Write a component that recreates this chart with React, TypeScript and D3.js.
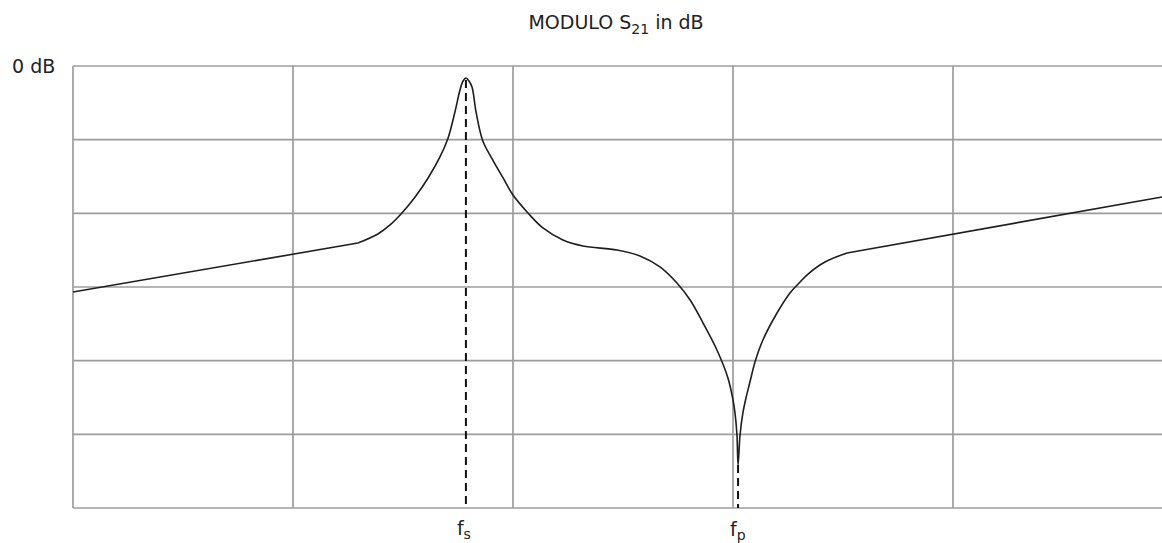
import React from "react";
import * as d3 from "d3";

// Frequency in grid divisions (0..5), magnitude in dB (10 dB per division)
const freq: number[] = [
  0, 1.295, 1.386, 1.441, 1.495, 1.555, 1.614, 1.668, 1.705, 1.736, 1.759, 1.773,
  1.786, 1.8, 1.814, 1.832, 1.862, 1.905, 1.955, 2.0, 2.068, 2.136, 2.227, 2.318,
  2.473, 2.577, 2.668, 2.745, 2.805, 2.864, 2.927, 2.977, 3.0, 3.009, 3.018, 3.023,
  3.032, 3.045, 3.059, 3.077, 3.1, 3.136, 3.2, 3.259, 3.305, 3.341, 3.418, 3.518, 4.95,
];
const s21dB: number[] = [
  -30.68, -24.03, -22.8, -21.58, -19.95, -17.78, -15.2, -12.35, -9.77, -6.24, -3.26, -2.04,
  -1.63, -2.04, -2.9, -6.24, -10.1, -12.6, -15.2, -17.51, -19.95, -21.99, -23.62, -24.43,
  -24.98, -25.79, -27.28, -29.46, -31.76, -34.89, -38.55, -42.35, -45.34, -47.1, -50.09, -54.16,
  -50.09, -47.1, -45.07, -42.9, -40.18, -37.19, -33.53, -30.81, -29.32, -28.24, -26.61, -25.38, -17.78,
];

const xGrid: number[] = [0, 1, 2, 3, 4, 5];
const yGrid: number[] = [0, -10, -20, -30, -40, -50, -60];

// Series resonance (peak) and parallel resonance (notch)
const fsFreq = 1.786;
const fsLevel = -1.63;
const fpFreq = 3.023;
const fpLevel = -54.16;

const W = 1162;
const H = 543;

export default function App() {
  const x = d3.scaleLinear().domain([0, 5]).range([73, 1173]);
  const y = d3.scaleLinear().domain([0, -60]).range([66, 508]);

  const pts = freq.map((f, i) => [f, s21dB[i]] as [number, number]);
  const n = pts.length;

  // Straight asymptotes at both ends, smooth resonance region in between
  const straight = d3
    .line<[number, number]>()
    .x((d) => x(d[0]))
    .y((d) => y(d[1]));
  const smooth = d3
    .line<[number, number]>()
    .x((d) => x(d[0]))
    .y((d) => y(d[1]))
    .curve(d3.curveCatmullRom.alpha(0.5));

  const gridColor = "#9c9c9c";
  const font = "'DejaVu Sans', Verdana, sans-serif";
  const ink = "#1e1e1e";

  return (
    <svg
      width={W}
      height={H}
      style={{ position: "absolute", left: 0, top: 0, background: "#fff" }}
    >
      <rect x={0} y={0} width={W} height={H} fill="#fff" />
      {yGrid.map((v) => (
        <line
          key={"h" + v}
          x1={x(0)}
          x2={W}
          y1={y(v)}
          y2={y(v)}
          stroke={gridColor}
          strokeWidth={1.7}
        />
      ))}
      {xGrid.map((v) => (
        <line
          key={"v" + v}
          x1={x(v)}
          x2={x(v)}
          y1={y(0)}
          y2={y(-60)}
          stroke={gridColor}
          strokeWidth={1.7}
        />
      ))}
      <line
        x1={x(fsFreq)}
        x2={x(fsFreq)}
        y1={y(fsLevel) + 2}
        y2={y(-60)}
        stroke="#111"
        strokeWidth={2}
        strokeDasharray="8,5"
      />
      <line
        x1={x(fpFreq)}
        x2={x(fpFreq)}
        y1={y(fpLevel)}
        y2={y(-60)}
        stroke="#111"
        strokeWidth={2}
        strokeDasharray="8,5"
      />
      <path d={straight(pts.slice(0, 2)) ?? ""} fill="none" stroke={ink} strokeWidth={1.6} />
      <path d={smooth(pts.slice(1, n - 1)) ?? ""} fill="none" stroke={ink} strokeWidth={1.6} />
      <path d={straight(pts.slice(n - 2)) ?? ""} fill="none" stroke={ink} strokeWidth={1.6} />

      <text x={616} y={29} textAnchor="middle" fontFamily={font} fontSize={19} fill="#222">
        <tspan>MODULO S</tspan>
        <tspan dy={5} fontSize={14}>21</tspan>
        <tspan dy={-5}> in dB</tspan>
      </text>
      <text x={12} y={73} fontFamily={font} fontSize={19} fill="#222">
        0 dB
      </text>
      <text x={x(fsFreq) - 9} y={535} fontFamily={font} fontSize={19} fill="#222">
        <tspan>f</tspan>
        <tspan dy={4} fontSize={14}>s</tspan>
      </text>
      <text x={x(fpFreq) - 8} y={536} fontFamily={font} fontSize={19} fill="#222">
        <tspan>f</tspan>
        <tspan dy={4} fontSize={14}>p</tspan>
      </text>
    </svg>
  );
}
